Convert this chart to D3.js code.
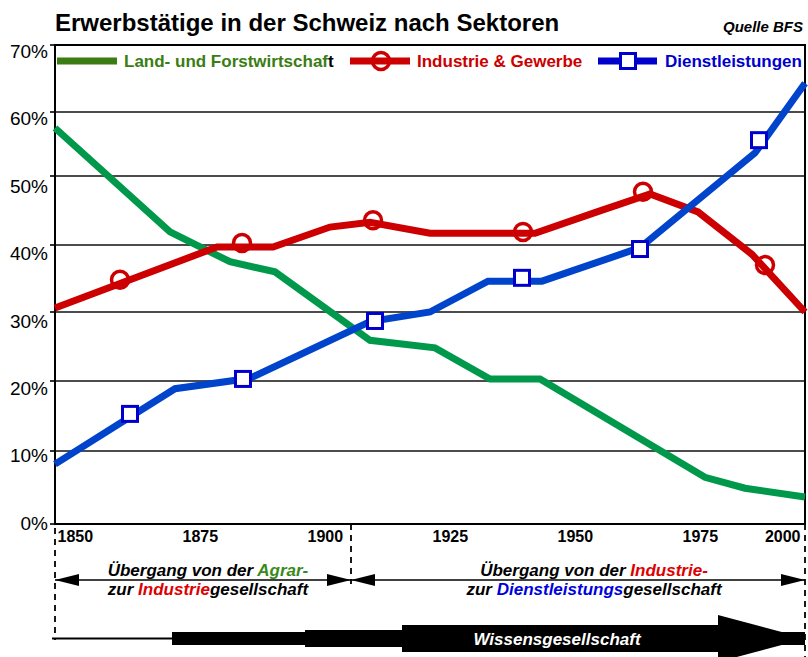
<!DOCTYPE html>
<html>
<head>
<meta charset="utf-8">
<script src="https://cdn.jsdelivr.net/npm/d3@7"></script>
<style>
body { margin: 0; background: #fff; }
svg { display: block; }
text { font-family: "Liberation Sans", Arial, sans-serif; }
</style>
</head>
<body>
<script>
var w = 808;
var h = 657;

// tick labels
var xTicks = [1850, 1875, 1900, 1925, 1950, 1975, 2000];
var yTicks = [0, 10, 20, 30, 40, 50, 60, 70];

// Land- und Forstwirtschaft
var landYears  = [1850, 1873, 1885, 1894, 1913, 1926, 1937, 1947, 1980, 1988, 2000];
var landValues = [57.5, 41.9, 37.5, 36.0, 25.9, 24.8, 20.3, 20.3, 6.4, 4.9, 3.7];

// Industrie & Gewerbe
var indYears  = [1850, 1882.4, 1893.6, 1905, 1913, 1925, 1946, 1958.4, 1969, 1978.6, 1989.4, 2000];
var indValues = [30.6, 39.7, 39.7, 42.6, 43.3, 41.7, 41.7, 44.8, 47.4, 44.8, 38.6, 30.0];
var indMarkYears  = [1863, 1887.4, 1913.6, 1943.6, 1967.6, 1992];
var indMarkValues = [34.8, 40.3, 43.6, 41.9, 47.7, 37.0];

// Dienstleistungen
var dienYears  = [1850, 1874, 1889, 1913, 1925, 1936.6, 1947.4, 1967, 1990, 2000];
var dienValues = [8.2, 18.9, 20.4, 28.6, 30.0, 34.6, 34.6, 39.6, 53.6, 64.3];
var dienMarkYears  = [1865, 1887.6, 1914, 1943.4, 1967, 1990.8];
var dienMarkValues = [15.3, 20.3, 28.7, 35.1, 39.4, 55.6];

var boundaryYear = 1909.2;

var svg = d3.select("body").append("svg")
    .attr("width", w)
    .attr("height", h);

var x = d3.scaleLinear().domain([1850, 2000]).range([55, 805]);
// the original grid is slightly uneven, so a piecewise scale
var y = d3.scaleLinear().domain(yTicks).range([524, 451, 381, 312, 245, 176, 112, 45]);
var yLab = d3.scaleLinear().domain([0, 70]).range([523, 51]);

// title
svg.append("text")
    .attr("x", 55).attr("y", 31)
    .style("font-size", "24px").style("font-weight", "bold")
    .text("Erwerbstätige in der Schweiz nach Sektoren");
svg.append("text")
    .attr("x", 803).attr("y", 32)
    .attr("text-anchor", "end")
    .style("font-size", "15px").style("font-weight", "bold").style("font-style", "italic")
    .text("Quelle BFS");

// grid
svg.selectAll(".grid")
    .data(yTicks.slice(1, 7))
    .enter().append("line")
    .attr("x1", 55).attr("x2", 805)
    .attr("y1", function(d) { return y(d); })
    .attr("y2", function(d) { return y(d); })
    .attr("stroke", "#111")
    .attr("stroke-width", 1.6);

svg.selectAll(".ytick")
    .data(yTicks)
    .enter().append("line")
    .attr("x1", 50).attr("x2", 56)
    .attr("y1", function(d) { return y(d); })
    .attr("y2", function(d) { return y(d); })
    .attr("stroke", "#000")
    .attr("stroke-width", 1.6);

svg.selectAll(".ylab")
    .data(yTicks)
    .enter().append("text")
    .attr("x", 48)
    .attr("y", function(d) { return yLab(d); })
    .attr("dy", "0.36em")
    .attr("text-anchor", "end")
    .style("font-size", "19px")
    .text(function(d) { return d + "%"; });

// frame
svg.append("path")
    .attr("d", "M" + x(1850) + "," + y(70) + "H" + x(2000) + "V" + y(0) + "H" + x(1850) + "Z")
    .attr("fill", "none")
    .attr("stroke", "#000")
    .attr("stroke-width", 2);

// x axis labels
var xAxis = d3.axisBottom(x)
    .tickValues(xTicks)
    .tickSize(0)
    .tickFormat(d3.format("d"));
var gx = svg.append("g")
    .attr("transform", "translate(0," + y(0) + ")")
    .call(xAxis);
gx.select(".domain").remove();
gx.selectAll("text")
    .attr("y", 18)
    .attr("dy", 0)
    .attr("x", 2)
    .attr("text-anchor", "start")
    .style("font-family", "'Liberation Sans', Arial, sans-serif")
    .style("font-size", "16px")
    .style("font-weight", "bold")
    .attr("fill", "#000");
gx.selectAll("text").filter(function(d) { return d === 2000; })
    .attr("x", -5)
    .attr("text-anchor", "end");

// series lines
function lineOf(years, values) {
    return d3.line()
        .x(function(d, i) { return x(years[i]); })
        .y(function(d, i) { return y(values[i]); })
        .curve(d3.curveLinear)(values);
}
svg.append("path")
    .attr("d", lineOf(landYears, landValues))
    .attr("fill", "none").attr("stroke", "#00994c").attr("stroke-width", 7);
svg.append("path")
    .attr("d", lineOf(indYears, indValues))
    .attr("fill", "none").attr("stroke", "#cc0000").attr("stroke-width", 7);
svg.append("path")
    .attr("d", lineOf(dienYears, dienValues))
    .attr("fill", "none").attr("stroke", "#0044cc").attr("stroke-width", 7);

svg.selectAll(".cmark")
    .data(indMarkValues)
    .enter().append("circle")
    .attr("cx", function(d, i) { return x(indMarkYears[i]); })
    .attr("cy", function(d) { return y(d); })
    .attr("r", 8.5)
    .attr("fill", "none").attr("stroke", "#cc0000").attr("stroke-width", 3.5);

svg.selectAll(".smark")
    .data(dienMarkValues)
    .enter().append("rect")
    .attr("x", function(d, i) { return x(dienMarkYears[i]) - 7.5; })
    .attr("y", function(d) { return y(d) - 7.5; })
    .attr("width", 15).attr("height", 15)
    .attr("fill", "#fff").attr("stroke", "#0000cc").attr("stroke-width", 3);

// legend
var lg = svg.append("g");
lg.append("line").attr("x1", 57).attr("x2", 117).attr("y1", 61).attr("y2", 61)
    .attr("stroke", "#3a7d12").attr("stroke-width", 7);
var t1 = lg.append("text").attr("x", 124).attr("y", 67)
    .style("font-size", "17px").style("font-weight", "bold");
t1.append("tspan").attr("fill", "#3a7d12").text("Land- und Forstwirtschaf");
t1.append("tspan").attr("fill", "#000").text("t");

lg.append("line").attr("x1", 350).attr("x2", 410).attr("y1", 61).attr("y2", 61)
    .attr("stroke", "#cc0000").attr("stroke-width", 7);
lg.append("circle").attr("cx", 381).attr("cy", 61).attr("r", 8.5)
    .attr("fill", "none").attr("stroke", "#cc0000").attr("stroke-width", 3.5);
lg.append("text").attr("x", 417).attr("y", 67)
    .attr("fill", "#cc0000")
    .style("font-size", "17px").style("font-weight", "bold")
    .text("Industrie & Gewerbe");

lg.append("line").attr("x1", 598).attr("x2", 657).attr("y1", 61).attr("y2", 61)
    .attr("stroke", "#0000cc").attr("stroke-width", 7);
lg.append("rect").attr("x", 620.5).attr("y", 53.5).attr("width", 15).attr("height", 15)
    .attr("fill", "#fff").attr("stroke", "#0000cc").attr("stroke-width", 3);
lg.append("text").attr("x", 665).attr("y", 67)
    .attr("fill", "#0000cc")
    .style("font-size", "17px").style("font-weight", "bold")
    .text("Dienstleistungen");

// dashed separators
var dashes = [
    {year: 1850, y1: 528, y2: 640},
    {year: boundaryYear, y1: 524, y2: 584},
    {year: 2000, y1: 524, y2: 657}
];
svg.selectAll(".dash")
    .data(dashes)
    .enter().append("line")
    .attr("x1", function(d) { return x(d.year); })
    .attr("x2", function(d) { return x(d.year); })
    .attr("y1", function(d) { return d.y1; })
    .attr("y2", function(d) { return d.y2; })
    .attr("stroke", "#000").attr("stroke-width", 1.8)
    .attr("stroke-dasharray", "6,5");

// double arrows
function headPath(xt, yc, dir) {
    return "M" + xt + "," + yc + "L" + (xt - dir * 24) + "," + (yc - 6) + "L" + (xt - dir * 24) + "," + (yc + 6) + "Z";
}
var spans = [[1850, boundaryYear], [boundaryYear, 2000]];
spans.forEach(function(s) {
    var a = x(s[0]), b = x(s[1]);
    svg.append("line").attr("x1", a).attr("x2", b).attr("y1", 580).attr("y2", 580)
        .attr("stroke", "#000").attr("stroke-width", 1.5);
    svg.append("path").attr("d", headPath(a, 580, -1)).attr("fill", "#000");
    svg.append("path").attr("d", headPath(b, 580, 1)).attr("fill", "#000");
});

function twoLine(cx, parts1, parts2) {
    [[parts1, 576], [parts2, 595]].forEach(function(p) {
        var t = svg.append("text").attr("x", cx).attr("y", p[1])
            .attr("text-anchor", "middle")
            .style("font-size", "17px").style("font-weight", "bold").style("font-style", "italic");
        p[0].forEach(function(q) {
            t.append("tspan").attr("fill", q[1]).text(q[0]);
        });
    });
}
twoLine(208,
    [["Übergang von der ", "#000"], ["Agrar-", "#3a8a1a"]],
    [["zur ", "#000"], ["Industrie", "#dd0000"], ["gesellschaft", "#000"]]);
twoLine(594,
    [["Übergang von der ", "#000"], ["Industrie-", "#dd0000"]],
    [["zur ", "#000"], ["Dienstleistungs", "#0000dd"], ["gesellschaft", "#000"]]);

// Wissensgesellschaft arrow
var cy = 638.5;
var bars = [
    {from: 1849.4, to: 1873.4, half: 1},
    {from: 1873.4, to: 1900, half: 6.5},
    {from: 1900, to: 1919.4, half: 8.5},
    {from: 1919.4, to: 1982.6, half: 13.5},
    {from: 1982.6, to: 2000, half: 6.5}
];
svg.selectAll(".bar")
    .data(bars)
    .enter().append("rect")
    .attr("x", function(d) { return x(d.from); })
    .attr("width", function(d) { return x(d.to) - x(d.from); })
    .attr("y", function(d) { return cy - d.half; })
    .attr("height", function(d) { return d.half * 2; })
    .attr("fill", "#000");
svg.append("path")
    .attr("d", "M" + x(1982.6) + "," + (cy - 23.5) + "L" + x(2000.2) + "," + cy + "L" + x(1982.6) + "," + (cy + 23.5) + "Z")
    .attr("fill", "#000");
svg.append("text")
    .attr("x", 557).attr("y", 645)
    .attr("text-anchor", "middle")
    .attr("fill", "#fff")
    .style("font-size", "17px").style("font-weight", "bold").style("font-style", "italic")
    .text("Wissensgesellschaft");
</script>
</body>
</html>
